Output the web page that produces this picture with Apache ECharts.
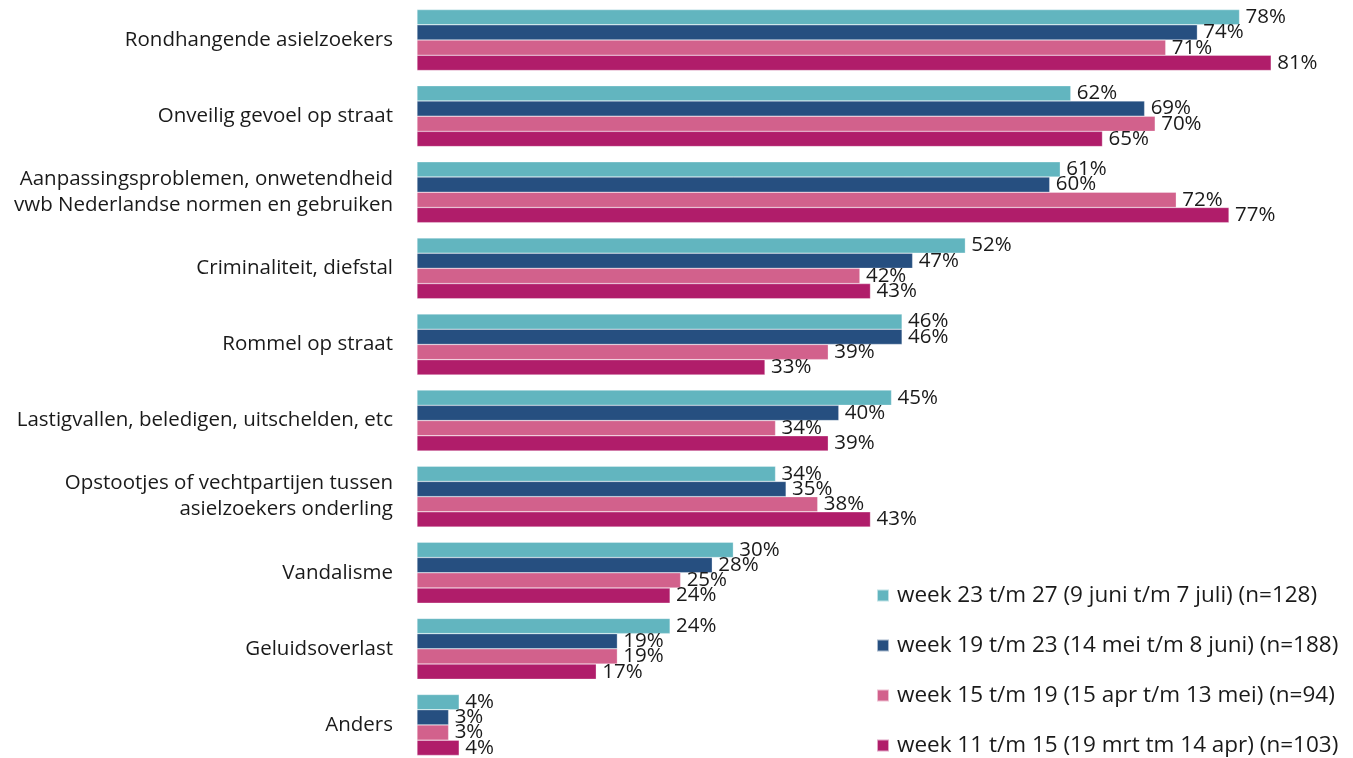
<!DOCTYPE html>
<html><head><meta charset="utf-8">
<script src="https://cdn.jsdelivr.net/npm/echarts@6/dist/echarts.min.js"></script>
<style>html,body{margin:0;padding:0;background:#fff}#c{width:1353px;height:758px}</style>
</head><body><div id="c"></div>
<script>
const categories = [
  "Rondhangende asielzoekers",
  "Onveilig gevoel op straat",
  "Aanpassingsproblemen, onwetendheid\nvwb Nederlandse normen en gebruiken",
  "Criminaliteit, diefstal",
  "Rommel op straat",
  "Lastigvallen, beledigen, uitschelden, etc",
  "Opstootjes of vechtpartijen tussen\nasielzoekers onderling",
  "Vandalisme",
  "Geluidsoverlast",
  "Anders"
];
const seriesNames = [
  "week 23 t/m 27 (9 juni t/m 7 juli) (n=128)",
  "week 19 t/m 23 (14 mei t/m 8 juni) (n=188)",
  "week 15 t/m 19 (15 apr t/m 13 mei) (n=94)",
  "week 11 t/m 15 (19 mrt tm 14 apr) (n=103)"
];
const week23_27 = [78, 62, 61, 52, 46, 45, 34, 30, 24, 4];
const week19_23 = [74, 69, 60, 47, 46, 40, 35, 28, 19, 3];
const week15_19 = [71, 70, 72, 42, 39, 34, 38, 25, 19, 3];
const week11_15 = [81, 65, 77, 43, 33, 39, 43, 24, 17, 4];
const colors = ["#62B5BF", "#264F80", "#D2618C", "#B01D6A"];
const values = [week23_27, week19_23, week15_19, week11_15];

const FONT = "Open Sans";
const chart = echarts.init(document.getElementById('c'), null, {renderer: 'canvas'});
chart.setOption({
  animation: false,
  color: colors,
  grid: {left: 417, right: 8, top: 2, height: 761, containLabel: false, outerBoundsMode: 'none'},
  xAxis: {type: 'value', min: 0, max: 88, show: false},
  yAxis: {
    type: 'category', data: categories, inverse: true,
    axisLine: {show: false}, axisTick: {show: false},
    axisLabel: {fontFamily: FONT, fontSize: 20.5, color: '#1a1a1a', margin: 24, lineHeight: 26, align: 'right'}
  },
  legend: {
    orient: 'vertical', left: 876, top: 584, height: 240, padding: 0,
    itemWidth: 12, itemHeight: 12, itemGap: 27,
    icon: 'rect',
    textStyle: {fontFamily: FONT, fontSize: 22.5, lineHeight: 23, color: '#1a1a1a', padding: [0,0,0,3]},
    data: seriesNames
  },
  series: values.map((v, i) => ({
    name: seriesNames[i], type: 'bar', data: v,
    barGap: '0%', barCategoryGap: '20%',
    itemStyle: {color: colors[i], borderColor: 'rgba(255,255,255,0.6)', borderWidth: 0.5},
    label: {show: true, position: 'right', distance: 6, formatter: '{c}%', fontFamily: FONT, fontSize: 20.5, color: '#1a1a1a'}
  }))
});
</script></body></html>
